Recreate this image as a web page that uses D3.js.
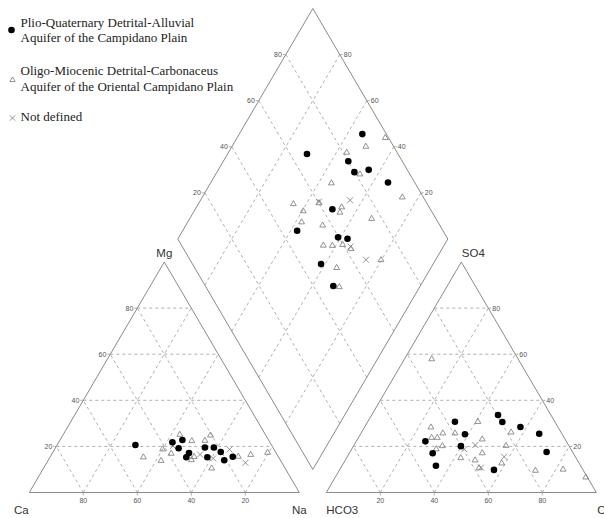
<!DOCTYPE html>
<html>
<head>
<meta charset="utf-8">
<script src="https://cdn.jsdelivr.net/npm/d3@7"></script>
<style>
  body { margin: 0; background: #fff; }
  svg { display: block; }
</style>
</head>
<body>
<svg id="chart"></svg>
<script>
// groups shown in the legend
const groups = [
  { key: 'pq', lines: ['Plio-Quaternary Detrital-Alluvial', 'Aquifer of the Campidano Plain'] },
  { key: 'om', lines: ['Oligo-Miocenic Detrital-Carbonaceus', 'Aquifer of the Oriental Campidano Plain'] },
  { key: 'nd', lines: ['Not defined'] }
];

const ticks = [20, 40, 60, 80];

// cation triangle: [Na %, Mg %]
const cationPQ = [[29, 20.6], [42.1, 21.8], [45.3, 22.8], [45.7, 19.2], [50.6, 17.1], [50.5, 15.3],
  [55.3, 19.5], [58.6, 19.5], [58.3, 15.3], [62.1, 17.6], [65.2, 14], [67.6, 15.5]];
const cationOM = [[34.6, 15.3], [41.9, 13.8], [40, 18.8], [44.1, 16.9], [43.2, 25.1], [49, 22.4],
  [53, 14.1], [53.3, 15.5], [53.8, 22.5], [54.7, 24.8], [62.3, 10.5], [69.6, 15.6], [73.8, 16.4], [79.6, 17.3]];
const cationND = [[55, 16.5], [60.7, 14.8], [64.8, 18.7], [73.6, 12.9], [43.1, 20.2]];

// anion triangle: [Cl %, SO4 %]
const anionPQ = [[32.3, 30.7], [38.7, 25.3], [25.6, 22.2], [39.8, 20.1], [30.9, 17], [34.8, 11.6],
  [46.8, 33.6], [49.9, 30.6], [57.7, 28.4], [66.1, 25.5], [72.8, 17.6], [57.2, 9.8]];
const anionOM = [[10.1, 57.9], [24.6, 28.3], [27.1, 23.8], [29.2, 23.8], [30.3, 25.7], [32.9, 20.2],
  [31.3, 18.8], [34.8, 25.7], [40.8, 30.7], [46.2, 23.1], [49.2, 17.1], [42.3, 15], [48.1, 14],
  [51.3, 10.6], [55.4, 26.1], [56.4, 20.3], [58.6, 12.7], [72.7, 9.5], [82.7, 10], [92.8, 6.6]];
const anionND = [[41.7, 18.8], [44.9, 20.6], [58.1, 15.5], [51.9, 10.8]];

// diamond: [SO4+Cl %, Ca+Mg %]
const diamondPQ = [[91.1, 54.4], [66.3, 70.6], [80, 53.7], [79.9, 49.1], [85.7, 44.3], [90.1, 34.4],
  [63.7, 49.2], [46, 57.6], [59.7, 41], [62.9, 37.2], [47.6, 41.5], [47.4, 32.2]];
const diamondOM = [[98.8, 45.1], [89.7, 50.4], [81.3, 56.2], [81.5, 46.6], [69, 55.2], [92.2, 25.9],
  [50.4, 64.8], [60.1, 55.5], [67.6, 46.2], [65.8, 45.7], [52.5, 59.6], [49.5, 57.8], [56.6, 49.3],
  [76.2, 32.6], [52.5, 44.7], [55.8, 41.3], [59.8, 37.7], [62, 33.7], [70.7, 20.2], [52.6, 34.9], [49.4, 29.8]];
const diamondND = [[72.2, 44.6], [60.4, 55.8], [62.3, 34.4], [65.2, 25.8]];

const width = 604, height = 518;
const H = Math.sqrt(3) / 2;
const gap = 0.1;

const svg = d3.select('#chart').attr('width', width).attr('height', height);
svg.append('rect').attr('width', width).attr('height', height).attr('fill', '#fff');

// unit space: triangle side = 1
const x = d3.scaleLinear().domain([0, 2 + gap]).range([29.3, 596.3]);
const y = d3.scaleLinear().domain([0, gap * H + 2 * H]).range([492.5, 8.5]);

const cat = (na, mg) => [x(na / 100 + mg / 200), y(mg / 100 * H)];
const ani = (cl, so4) => [x(1 + gap + cl / 100 + so4 / 200), y(so4 / 100 * H)];
const dia = (s, c) => [x(1 + gap / 2 + (s - c) / 200), y(gap * H + (s + c) / 100 * H)];

const frame = '#8a8a8a';
const gridCol = '#9a9a9a';
const line = d3.line();

function outline(pts) {
  svg.append('path').attr('d', line(pts) + 'Z')
    .attr('fill', 'none').attr('stroke', frame).attr('stroke-width', 1);
}
function dashed(a, b) {
  svg.append('path').attr('d', line([a, b]))
    .attr('fill', 'none').attr('stroke', gridCol).attr('stroke-width', 0.8)
    .attr('stroke-dasharray', '3,3');
}
function tick(p, dx, dy) {
  svg.append('path').attr('d', line([p, [p[0] + dx, p[1] + dy]]))
    .attr('stroke', gridCol).attr('stroke-width', 0.8);
}
function tickLabel(p, txt, anchor) {
  svg.append('text').attr('x', p[0]).attr('y', p[1]).attr('text-anchor', anchor)
    .attr('font-family', 'Liberation Sans, Arial, sans-serif').attr('font-size', 7)
    .attr('fill', '#555').text(txt);
}

// grids
ticks.forEach(k => {
  // cations
  dashed(cat(0, k), cat(100 - k, k));
  dashed(cat(k, 0), cat(k, 100 - k));
  dashed(cat(100 - k, 0), cat(0, 100 - k));
  // anions
  dashed(ani(0, k), ani(100 - k, k));
  dashed(ani(k, 0), ani(k, 100 - k));
  dashed(ani(100 - k, 0), ani(0, 100 - k));
  // diamond
  dashed(dia(k, 0), dia(k, 100));
  dashed(dia(0, k), dia(100, k));
});

outline([cat(0, 0), cat(100, 0), cat(0, 100)]);
outline([ani(0, 0), ani(100, 0), ani(0, 100)]);
outline([dia(0, 0), dia(100, 0), dia(100, 100), dia(0, 100)]);

// ticks and tick labels
ticks.forEach(k => {
  let p = cat(0, k);
  tick(p, -3, 0);
  tickLabel([p[0] - 4, p[1] + 2.5], k, 'end');
  p = cat(k, 0);
  tick(p, 0, 3);
  tickLabel([p[0], p[1] + 10], 100 - k, 'middle');
  p = ani(100 - k, k);
  tick(p, 3, 0);
  tickLabel([p[0] + 4, p[1] + 2.5], k, 'start');
  p = ani(k, 0);
  tick(p, 0, 3);
  tickLabel([p[0], p[1] + 10], k, 'middle');
  p = dia(k, 100);
  tick(p, -3, 0);
  tickLabel([p[0] - 4, p[1] + 2.5], k, 'end');
  p = dia(100, k);
  tick(p, 3, 0);
  tickLabel([p[0] + 4, p[1] + 2.5], k, 'start');
});

// corner labels
const corner = [
  ['Mg', cat(0, 100), 0, -5, 'middle'],
  ['Ca', cat(0, 0), -8, 21, 'middle'],
  ['Na', cat(100, 0), 0, 21, 'middle'],
  ['SO4', ani(0, 100), 12, -5, 'middle'],
  ['HCO3', ani(0, 0), 0, 21, 'start'],
  ['Cl', ani(100, 0), 1, 21, 'start']
];
corner.forEach(([t, p, dx, dy, a]) => {
  svg.append('text').attr('x', p[0] + dx).attr('y', p[1] + dy).attr('text-anchor', a)
    .attr('font-family', 'Liberation Sans, Arial, sans-serif').attr('font-size', 11.5)
    .attr('fill', '#333').text(t);
});

// markers
const symbolCol = '#777';
function drawMarks(data, proj, kind) {
  const g = svg.append('g');
  const pts = data.map(d => proj(d[0], d[1]));
  if (kind === 'pq') {
    g.selectAll('circle').data(pts).enter().append('circle')
      .attr('cx', d => d[0]).attr('cy', d => d[1]).attr('r', 3.3).attr('fill', '#000');
  } else if (kind === 'om') {
    g.selectAll('path').data(pts).enter().append('path')
      .attr('d', d3.symbol(d3.symbolTriangle, 15))
      .attr('transform', d => `translate(${d[0]},${d[1]})`)
      .attr('fill', 'none').attr('stroke', symbolCol).attr('stroke-width', 0.8);
  } else {
    g.selectAll('path').data(pts).enter().append('path')
      .attr('d', 'M-3,-3L3,3M-3,3L3,-3')
      .attr('transform', d => `translate(${d[0]},${d[1]})`)
      .attr('fill', 'none').attr('stroke', symbolCol).attr('stroke-width', 0.8);
  }
}

drawMarks(cationOM, cat, 'om');
drawMarks(anionOM, ani, 'om');
drawMarks(diamondOM, dia, 'om');
drawMarks(cationND, cat, 'nd');
drawMarks(anionND, ani, 'nd');
drawMarks(diamondND, dia, 'nd');
drawMarks(cationPQ, cat, 'pq');
drawMarks(anionPQ, ani, 'pq');
drawMarks(diamondPQ, dia, 'pq');

// legend
const legendY = [30, 80, 118];
const legendText = [[26.5, 41.5], [75, 90.5], [120.5]];
groups.forEach((gr, i) => {
  const lg = svg.append('g');
  const sy = legendY[i];
  if (gr.key === 'pq') {
    lg.append('circle').attr('cx', 11.5).attr('cy', sy).attr('r', 3.3).attr('fill', '#000');
  } else if (gr.key === 'om') {
    lg.append('path').attr('d', d3.symbol(d3.symbolTriangle, 12))
      .attr('transform', `translate(12.5,${sy})`)
      .attr('fill', 'none').attr('stroke', symbolCol).attr('stroke-width', 0.8);
  } else {
    lg.append('path').attr('d', 'M-2.7,-2.7L2.7,2.7M-2.7,2.7L2.7,-2.7')
      .attr('transform', `translate(12.5,${sy})`)
      .attr('fill', 'none').attr('stroke', symbolCol).attr('stroke-width', 0.8);
  }
  gr.lines.forEach((t, j) => {
    lg.append('text').attr('x', 20.5).attr('y', legendText[i][j])
      .attr('font-family', 'Liberation Serif, Times New Roman, serif').attr('font-size', 13)
      .attr('fill', '#222').text(t);
  });
});
</script>
</body>
</html>
